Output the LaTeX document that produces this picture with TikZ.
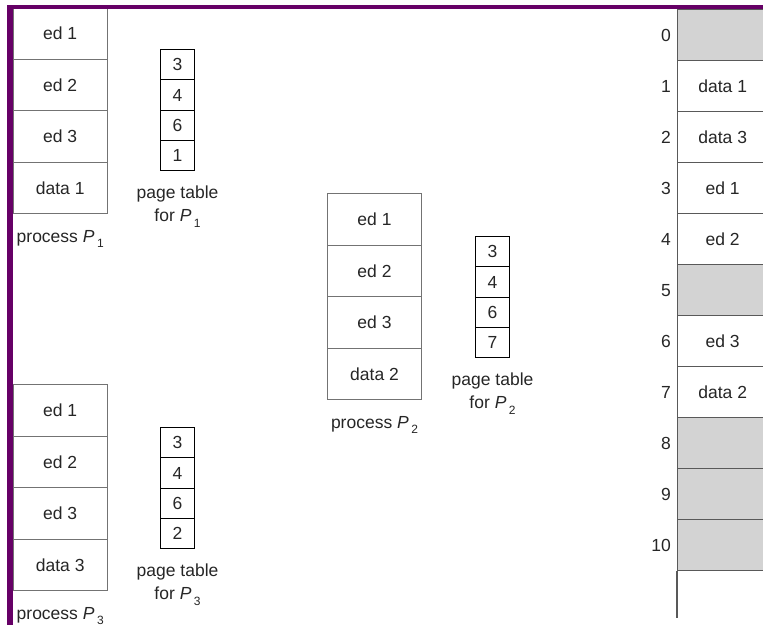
\documentclass[tikz,border=0pt]{standalone}
\usepackage{fontspec}
\setmainfont{Liberation Sans}
\usetikzlibrary{positioning}

\definecolor{frameedge}{RGB}{102,0,102}
\definecolor{freeframe}{RGB}{211,211,211}

\tikzset{
  procbox/.style={draw=black!55,line width=1pt,minimum width=94pt,
    minimum height=51.5pt,inner sep=0pt,anchor=north west,text=black!85},
  ptcell/.style={draw=black,line width=1.1pt,minimum width=34pt,
    minimum height=30.3pt,inner sep=0pt,anchor=north west,text=black!85},
  memframe/.style={draw=black!65,line width=1.4pt,minimum width=90pt,
    minimum height=51pt,inner sep=0pt,anchor=north west,text=black!85},
  caption/.style={align=center,inner sep=0pt,text=black!85},
}

\newcommand{\procP}[1]{\textit{P}\kern2.5pt\raisebox{-5.5pt}{\fontsize{12}{12}\selectfont #1}}

\begin{document}
\begin{tikzpicture}[x=1pt,y=-1pt,font=\fontsize{17.5}{23}\selectfont]
  \useasboundingbox (0,0) rectangle (763,625);
  \clip (0,0) rectangle (763,625);

  % process P1 and its page table
  \foreach \lbl [count=\i] in {ed 1,ed 2,ed 3,data 1}
    \node[procbox] (p1-\i) at (12.7,{7+(\i-1)*51.5}) {\lbl};
  \node[caption,anchor=base] (p1-name) at ([yshift=-28pt]p1-4.south) {process \procP{1}};
  \foreach \lbl [count=\i] in {3,4,6,1}
    \node[ptcell] (pt1-\i) at (160,{49+(\i-1)*30.3}) {\lbl};
  \node[caption,anchor=north] (pt1-name) at ([yshift=-14.5pt]pt1-4.south) {page table\\for \procP{1}};

  % process P2 and its page table
  \foreach \lbl [count=\i] in {ed 1,ed 2,ed 3,data 2}
    \node[procbox] (p2-\i) at (327,{193+(\i-1)*51.5}) {\lbl};
  \node[caption,anchor=base] (p2-name) at ([yshift=-28pt]p2-4.south) {process \procP{2}};
  \foreach \lbl [count=\i] in {3,4,6,7}
    \node[ptcell] (pt2-\i) at (475,{236+(\i-1)*30.3}) {\lbl};
  \node[caption,anchor=north] (pt2-name) at ([yshift=-14.5pt]pt2-4.south) {page table\\for \procP{2}};

  % process P3 and its page table
  \foreach \lbl [count=\i] in {ed 1,ed 2,ed 3,data 3}
    \node[procbox] (p3-\i) at (12.7,{384+(\i-1)*51.5}) {\lbl};
  \node[caption,anchor=base] (p3-name) at ([yshift=-28pt]p3-4.south) {process \procP{3}};
  \foreach \lbl [count=\i] in {3,4,6,2}
    \node[ptcell] (pt3-\i) at (160,{427+(\i-1)*30.3}) {\lbl};
  \node[caption,anchor=north] (pt3-name) at ([yshift=-14.5pt]pt3-4.south) {page table\\for \procP{3}};

  % physical memory
  \foreach \n/\lbl/\fl in {0/{}/freeframe,1/data 1/white,2/data 3/white,
      3/ed 1/white,4/ed 2/white,5/{}/freeframe,6/ed 3/white,7/data 2/white,
      8/{}/freeframe,9/{}/freeframe,10/{}/freeframe} {
    \node[memframe,fill=\fl] (f\n) at (677,{9+\n*51}) {\lbl};
    \node[caption,anchor=east] (fn\n) at ([xshift=-6pt]f\n.west) {\n};
  }
  \coordinate (memend) at (677,618);
  \draw[black!65,line width=1.4pt] (f10.south west) -- (memend);

  % purple edge
  \fill[frameedge] (7,5) rectangle (763,9.3);
  \fill[frameedge] (7,5) rectangle (12.7,625);
\end{tikzpicture}
\end{document}
